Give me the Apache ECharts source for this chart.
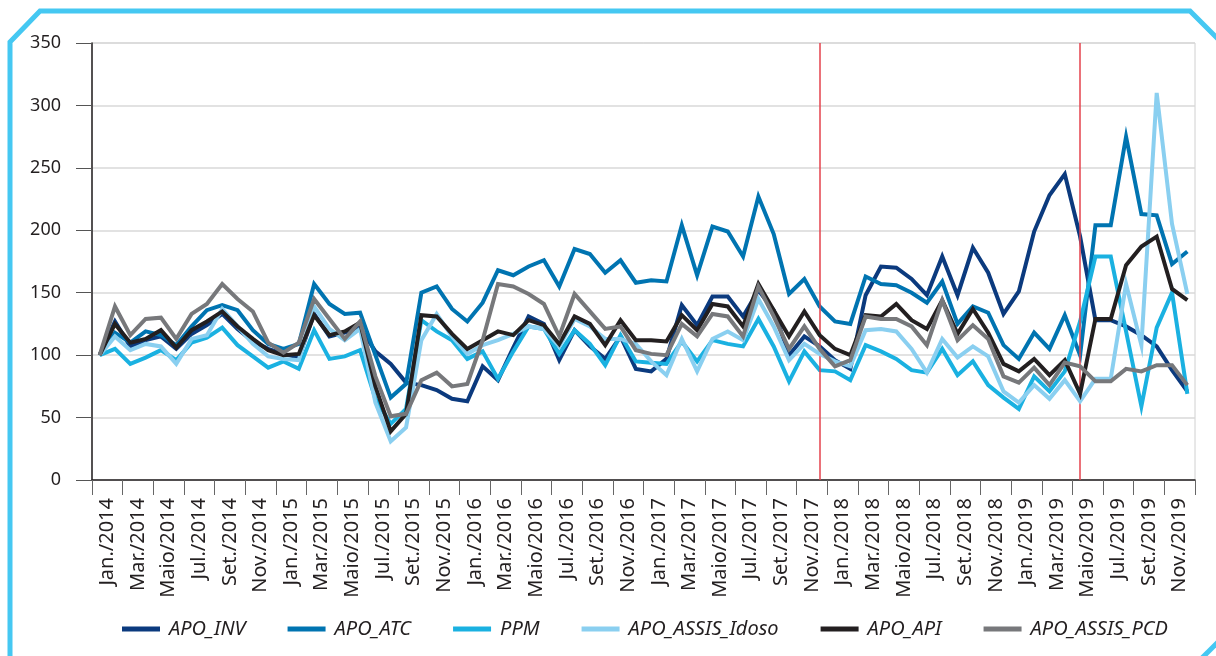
<!DOCTYPE html>
<html>
<head>
<meta charset="utf-8">
<title>APO series 2014-2019</title>
<script src="https://cdn.jsdelivr.net/npm/echarts@6/dist/echarts.min.js"></script>
<style>
  html, body { margin: 0; padding: 0; background: #fff; }
  #chart { width: 1216px; height: 656px; }
</style>
</head>
<body>
<div id="chart"></div>
<script>
// meses / anos do eixo x
const months = ['Jan.', 'Fev.', 'Mar.', 'Abr.', 'Maio', 'Jun.', 'Jul.', 'Ago.', 'Set.', 'Out.', 'Nov.', 'Dez.']
const years = [2014, 2015, 2016, 2017, 2018, 2019]
const categories = years.flatMap(y => months.map(m => m + '/' + y))
// rótulos a cada 2 meses (Jan., Mar., Maio...)
const tickLabels = categories.filter((c, i) => i % 2 === 0)
const markMonths = ['Dez./2017', 'Maio/2019']
const yTicks = [0, 50, 100, 150, 200, 250, 300, 350]

const apoInv = [100, 127, 107, 112, 115, 105, 117, 124, 133, 121, 111, 105, 101, 98, 133, 115, 118, 122,
  103, 93, 78, 76, 72, 65, 63, 91, 80, 106, 131, 125, 96, 120, 107, 97, 115, 89,
  87, 97, 140, 124, 147, 147, 131, 152, 136, 100, 115, 107, 96, 89, 148, 171, 170,
  161, 148, 179, 148, 186, 166, 133, 151, 199, 228, 245, 195, 128, 128, 123, 116, 107, 88, 71]
const apoAtc = [100, 118, 110, 119, 116, 108, 123, 136, 140, 136, 120, 109, 105, 109, 157, 141, 133, 134,
  100, 66, 77, 150, 155, 137, 127, 142, 168, 164, 171, 176, 155, 185, 181, 166, 176, 158,
  160, 159, 204, 164, 203, 199, 179, 227, 197, 149, 161, 139, 127, 125, 163, 157, 156,
  150, 142, 159, 125, 139, 134, 108, 97, 118, 105, 132, 100, 204, 204, 275, 213, 212, 173, 183]
const ppm = [100, 105, 93, 98, 104, 96, 110, 114, 122, 108, 99, 90, 95, 89, 120, 97, 99, 104,
  65, 45, 57, 128, 119, 112, 97, 103, 81, 103, 123, 121, 101, 120, 109, 92, 116, 95,
  94, 93, 111, 95, 112, 109, 107, 129, 107, 79, 103, 88, 87, 80, 108, 103, 97,
  88, 86, 105, 84, 95, 76, 66, 57, 83, 71, 87, 127, 179, 179, 119, 59, 122, 150, 69]
const apoAssisIdoso = [100, 115, 104, 109, 107, 93, 113, 116, 137, 123, 109, 99, 97, 96, 139, 121, 112, 121,
  62, 31, 42, 112, 133, 115, 101, 108, 112, 117, 123, 121, 107, 129, 123, 113, 113, 109,
  95, 84, 113, 87, 113, 119, 112, 145, 123, 96, 109, 101, 95, 91, 120, 121, 119,
  105, 86, 113, 98, 107, 99, 71, 62, 76, 65, 80, 63, 81, 81, 157, 108, 310, 205, 149]
const apoApi = [100, 125, 110, 113, 120, 106, 120, 127, 135, 123, 113, 104, 100, 101, 132, 116, 119, 126,
  75, 39, 53, 132, 131, 117, 105, 112, 119, 116, 128, 124, 109, 131, 125, 108, 128, 112,
  112, 111, 132, 120, 141, 139, 123, 157, 136, 115, 135, 116, 105, 100, 132, 131, 141,
  128, 121, 144, 117, 137, 118, 93, 87, 97, 84, 96, 69, 129, 129, 172, 187, 195, 153, 144]
const apoAssisPcd = [100, 139, 116, 129, 130, 113, 133, 141, 157, 145, 135, 110, 102, 110, 145, 129, 113, 127,
  83, 51, 53, 80, 86, 75, 77, 112, 157, 155, 149, 141, 115, 149, 135, 121, 123, 104,
  101, 100, 125, 115, 133, 131, 115, 155, 131, 105, 123, 105, 91, 96, 131, 129, 129,
  123, 108, 144, 112, 124, 113, 83, 78, 90, 76, 94, 91, 79, 79, 89, 87, 92, 92, 76]

const seriesList = [
  { name: 'APO_INV', data: apoInv, color: '#0b3a7e' },
  { name: 'APO_ATC', data: apoAtc, color: '#0074b1' },
  { name: 'PPM', data: ppm, color: '#1ab1e1' },
  { name: 'APO_ASSIS_Idoso', data: apoAssisIdoso, color: '#8acff0' },
  { name: 'APO_API', data: apoApi, color: '#231f20' },
  { name: 'APO_ASSIS_PCD', data: apoAssisPcd, color: '#77787b' }
]

const font = 'Noto Sans'
const frameColor = '#45c8f2'

const myChart = echarts.init(document.getElementById('chart'))
const option = {
  animation: false,
  textStyle: { fontFamily: font },
  grid: {
    left: 92, right: 21, top: 43, bottom: 176,
    show: true, borderColor: '#d0d0d0', borderWidth: 1
  },
  legend: {
    bottom: 12,
    left: 117,
    itemWidth: 38,
    itemHeight: 5,
    itemGap: 42,
    icon: 'rect',
    textStyle: { fontSize: 20, fontStyle: 'italic', color: '#231f20', fontFamily: font, padding: [0, 0, 0, 4] }
  },
  xAxis: [
    {
      // eixo dos dados (72 meses)
      type: 'category',
      data: categories,
      boundaryGap: true,
      axisLine: { lineStyle: { color: '#231f20', width: 1.5 } },
      axisTick: { show: false },
      axisLabel: { show: false },
      splitLine: { show: false }
    },
    {
      // eixo dos rótulos (a cada 2 meses)
      type: 'category',
      data: tickLabels,
      position: 'bottom',
      boundaryGap: true,
      axisLine: { show: false },
      axisTick: { show: true, length: 15, interval: 0, lineStyle: { color: '#666' } },
      axisLabel: { interval: 0, rotate: 90, margin: 18, fontSize: 20, color: '#231f20' },
      splitLine: { show: false }
    }
  ],
  yAxis: {
    type: 'value',
    min: yTicks[0],
    max: yTicks[yTicks.length - 1],
    interval: 50,
    axisLine: { show: true, lineStyle: { color: '#231f20', width: 1.5 } },
    axisTick: { show: true, length: 16, lineStyle: { color: '#555' } },
    axisLabel: { fontSize: 18, color: '#231f20', margin: 31 },
    splitLine: { lineStyle: { color: '#d9d9d9', width: 1.5 } }
  },
  series: seriesList.map((s, idx) => ({
    name: s.name,
    type: 'line',
    xAxisIndex: 0,
    data: s.data,
    symbol: 'none',
    color: s.color,
    lineStyle: { width: 4, color: s.color, join: 'miter' },
    z: 2 + idx,
    markLine: idx === 0 ? {
      symbol: 'none',
      silent: true,
      label: { show: false },
      lineStyle: { color: '#e5424d', width: 1.5, type: 'solid' },
      data: markMonths.map(m => ({ xAxis: m }))
    } : undefined
  })),
  graphic: [
    {
      type: 'polyline',
      shape: { points: [[10, 660], [10, 42], [40, 11], [1190, 11], [1222, 43]] },
      style: { stroke: frameColor, lineWidth: 5, fill: null },
      silent: true
    },
    {
      type: 'polyline',
      shape: { points: [[1200, 660], [1222, 638]] },
      style: { stroke: frameColor, lineWidth: 5, fill: null },
      silent: true
    }
  ]
}
myChart.setOption(option)
</script>
</body>
</html>
